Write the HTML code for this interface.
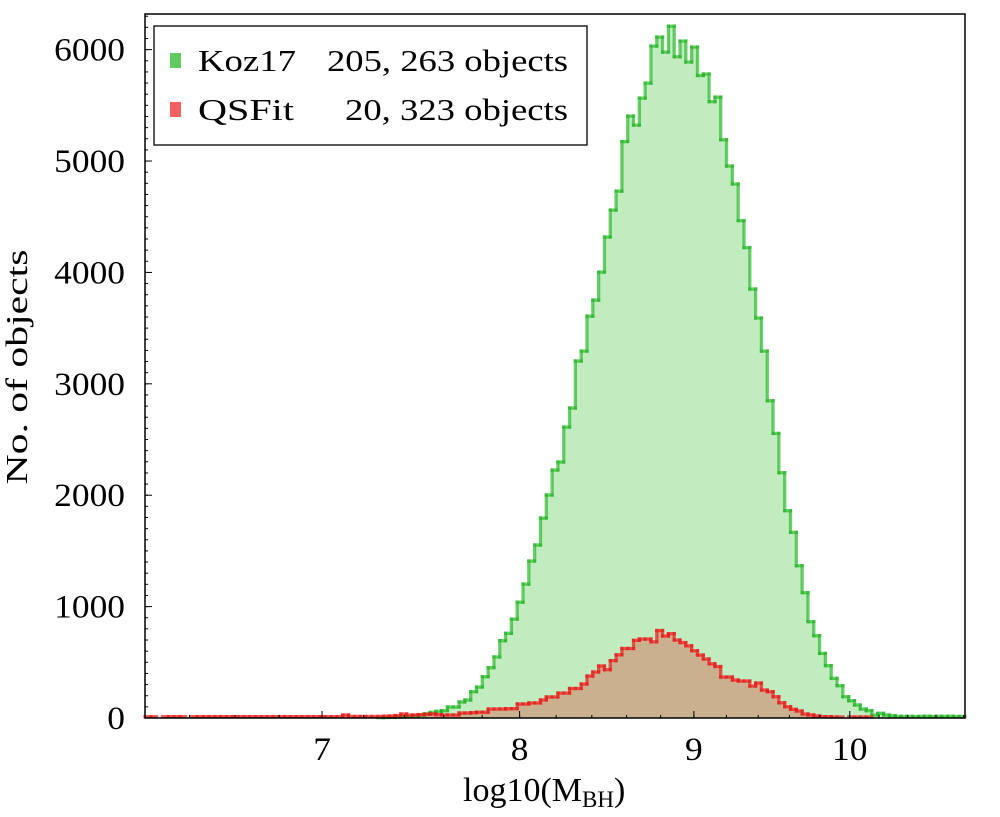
<!DOCTYPE html>
<html><head><meta charset="utf-8"><style>
html,body{margin:0;padding:0;background:#fff;}
svg{display:block;font-family:"Liberation Serif",serif;}
</style></head><body>
<svg id="chart" width="1000" height="817" viewBox="0 0 1000 817" xmlns="http://www.w3.org/2000/svg">
<g id="fills"></g>
<g id="lines"></g>
<rect x="145" y="14" width="820" height="704" fill="none" stroke="#000" stroke-width="1.5"/>
<g id="ticks"></g>
<text transform="translate(27,367) rotate(-90)" text-anchor="middle" font-size="31" textLength="235" lengthAdjust="spacingAndGlyphs">No. of objects</text>
<text x="463" y="801" font-size="34">log10(M<tspan font-size="23" dy="6">BH</tspan><tspan dy="-6">)</tspan></text>
<g>
<rect x="154" y="26" width="433" height="119" fill="#fff" stroke="#000" stroke-width="1.3"/>
<rect x="170" y="53" width="11" height="15" fill="rgba(30,180,30,0.7)"/>
<text x="198" y="71" font-size="31" textLength="98" lengthAdjust="spacingAndGlyphs">Koz17</text>
<text x="568" y="71" font-size="31" text-anchor="end" textLength="241" lengthAdjust="spacingAndGlyphs">205, 263 objects</text>
<rect x="170" y="102" width="11" height="15" fill="rgba(235,30,30,0.7)"/>
<text x="198" y="120" font-size="31" textLength="96" lengthAdjust="spacingAndGlyphs">QSFit</text>
<text x="568" y="120" font-size="31" text-anchor="end" textLength="223" lengthAdjust="spacingAndGlyphs">20, 323 objects</text>
</g>
</svg>
<script>
const koz17Counts = [
0,0,0,0,0,0,0,0,0,0, 0,0,0,0,0,0,0,0,0,0, 0,0,0,0,0,0,0,0,0,0, 0,0,0,0,0,0,0,0,0,0,
3,5,6,8,10,14,18,25,38,50, 60,
66,99,99,144,162,236,278,371,452,548,694,760,888,1040,1202,1409,1553,1795,2002,2226,
2298,2612,2783,3205,3294,3608,3752,4003,4318,4560,4730,5175,5404,5323,5565,5700,6032,6113,5978,6211,
5936,6077,5889,6023,5768,5781,5533,5574,5191,4955,4794,4465,4223,3851,3591,3294,
2848,2555,2202,1861,1667,1367,1125,865,739,580,470,356,290,191,155,117,81,66,27,42,27,21,15,
14,15,12,14,16,13,15,14,16,12,14
];
const qsfitCounts = [
12,12,0,12,12,12,12,0,12,12, 12,12,12,12,12,12,12,12,12,12, 12,12,12,12,12,12,12,12,12,12, 12,12,12,12,27,14,14,14,14,14,
14,16,18,22,36,26,27,30,33,36, 30,
27,27,27,45,45,48,52,52,81,81,81,84,84,126,126,135,135,162,189,189,224,224,
265,265,305,377,413,467,434,515,567,624,624,697,709,709,684,785,736,757,700,677,648,604,565,530,487,462,368,368,341,332,332,287,314,
251,236,191,137,101,78,63,36,27,18,12,12,9,9,0,9,9,9,9,
0,0,0,0,0,0,0,0,0,0,0,0,0,0,0,0
];
const xTickValues = [7, 8, 9, 10];
const xTickLabels = ["7", "8", "9", "10"];
const yTickValues = [0, 1000, 2000, 3000, 4000, 5000, 6000];
const yTickLabels = ["0", "1000", "2000", "3000", "4000", "5000", "6000"];
const xDomain = [6.2105, 10.81];
const yDomain = [0, 6320];

const PL = 145, PR = 965, PT = 14, PB = 718;
const lx0 = Math.log10(xDomain[0]), lx1 = Math.log10(xDomain[1]);
function xScale(v){ return PL + (Math.log10(v) - lx0) / (lx1 - lx0) * (PR - PL); }
function yScale(v){ return PB - (v - yDomain[0]) / (yDomain[1] - yDomain[0]) * (PB - PT); }
function binEdge(i, n){ return Math.pow(10, lx0 + (lx1 - lx0) * i / n); }

const NS = "http://www.w3.org/2000/svg";
const fills = document.getElementById('fills');
const lines = document.getElementById('lines');
const ticks = document.getElementById('ticks');

function drawSeries(counts, fillColor, strokeColor, name){
  const n = counts.length;
  let d = "M" + xScale(binEdge(0, n)) + "," + yScale(0);
  for (let i = 0; i < n; i++){
    const x0 = xScale(binEdge(i, n)), x1 = xScale(binEdge(i + 1, n)), y = yScale(counts[i]);
    d += " L" + x0 + "," + y + " L" + x1 + "," + y;
  }
  d += " L" + xScale(binEdge(n, n)) + "," + yScale(0) + " Z";
  const p = document.createElementNS(NS, 'path');
  p.setAttribute('d', d);
  p.setAttribute('fill', fillColor);
  
  
  fills.appendChild(p);
  const g = document.createElementNS(NS, 'g');
  
  
  g.setAttribute('stroke', strokeColor);
  g.setAttribute('stroke-width', '3.3');
  g.setAttribute('stroke-linecap', 'square');
  for (let i = 0; i < n; i++){
    const x0 = xScale(binEdge(i, n)), x1 = xScale(binEdge(i + 1, n)), y = yScale(counts[i]);
    if (counts[i] > 0){
      const h = document.createElementNS(NS, 'line');
      h.setAttribute('x1', x0); h.setAttribute('x2', x1);
      h.setAttribute('y1', y); h.setAttribute('y2', y);
      
      
      g.appendChild(h);
    }
    if (i < n - 1 && counts[i] !== counts[i + 1] && (counts[i] > 0 && counts[i + 1] > 0)){
      const v = document.createElementNS(NS, 'line');
      v.setAttribute('x1', x1); v.setAttribute('x2', x1);
      v.setAttribute('y1', y); v.setAttribute('y2', yScale(counts[i + 1]));
      
      
      g.appendChild(v);
    }
  }
  lines.appendChild(g);
}
drawSeries(koz17Counts, '#c0ecc0', 'rgba(30,180,30,0.65)', 'koz17');
drawSeries(qsfitCounts, '#cbb08f', 'rgba(235,25,25,0.7)', 'qsfit');

function addLine(x1, y1, x2, y2, name){
  const l = document.createElementNS(NS, 'line');
  l.setAttribute('x1', x1); l.setAttribute('x2', x2);
  l.setAttribute('y1', y1); l.setAttribute('y2', y2);
  l.setAttribute('stroke', '#000');
  l.setAttribute('stroke-width', '1');
  
  
  ticks.appendChild(l);
}
function addText(x, y, s, anchor, name){
  const t = document.createElementNS(NS, 'text');
  t.setAttribute('x', x); t.setAttribute('y', y);
  t.setAttribute('font-size', '33');
  t.setAttribute('text-anchor', anchor);
  t.setAttribute('textLength', 17.7 * s.length);
  t.setAttribute('lengthAdjust', 'spacingAndGlyphs');
  t.textContent = s;
  
  
  ticks.appendChild(t);
}
for (let v = 6.4; v < xDomain[1]; v += 0.2){
  const x = xScale(v);
  if (x > PL + 1 && x < PR - 1) addLine(x, PB, x, PB - 3, 'x-minor-tick');
}
xTickValues.forEach((v, i) => {
  const x = xScale(v);
  addLine(x, PB, x, PB - 7, 'x-major-tick');
  addText(x, 760, xTickLabels[i], 'middle', 'x-tick-label');
});
for (let v = 100; v < yDomain[1]; v += 100){
  addLine(PL, yScale(v), PL + 3, yScale(v), 'y-minor-tick');
}
yTickValues.forEach((v, i) => {
  const y = yScale(v);
  addLine(PL, y, PL + 7, y, 'y-major-tick');
  addText(125, y + 11, yTickLabels[i], 'end', 'y-tick-label');
});
</script>
</body></html>
